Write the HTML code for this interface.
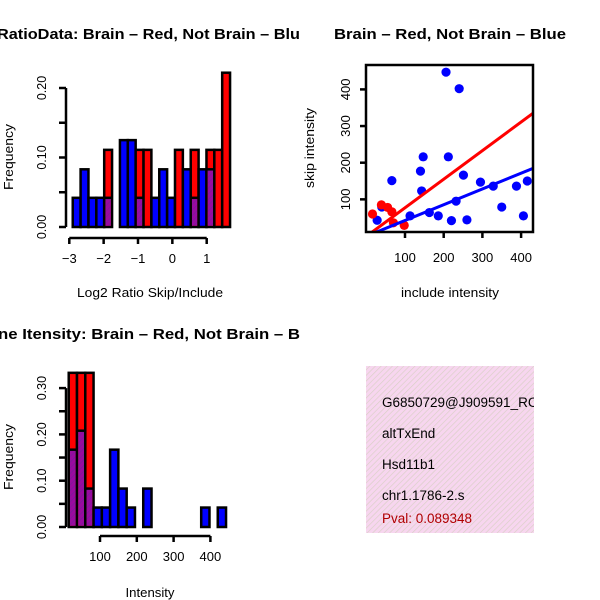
<!DOCTYPE html>
<html><head><meta charset="utf-8"><style>
body{margin:0;background:#fff;}
svg{display:block;font-family:"Liberation Sans",sans-serif;}
</style></head><body>
<svg id="c" width="600" height="600" viewBox="0 0 600 600">
<defs>
<pattern id="hatch" width="4" height="4" patternUnits="userSpaceOnUse" patternTransform="rotate(45)">
<rect width="4" height="4" fill="#9a0aa0"/><line x1="0" y1="0" x2="0" y2="4" stroke="#7a1a9a" stroke-width="1.5"/>
</pattern>
<pattern id="pinkhatch" width="4" height="4" patternUnits="userSpaceOnUse" patternTransform="rotate(45)">
<rect width="4" height="4" fill="#f7d6ef"/><line x1="0" y1="0" x2="0" y2="4" stroke="#d9cfc6" stroke-width="1.3"/>
</pattern>
<clipPath id="clipL"><rect x="0" y="0" width="300" height="600"/></clipPath>
<clipPath id="clipS"><rect x="366" y="65" width="167" height="167"/></clipPath>
<clipPath id="clipT"><rect x="366" y="366" width="168" height="167"/></clipPath>
</defs>
<g id="root"></g>
</svg>
<script>
// Panel 1: log2 ratio histogram
const ratioBinStart = -2.9;
const ratioBinWidth = 0.229;
const ratioBlue = [0.042,0.083,0.042,0.042,0.042,0,0.125,0.125,0.042,0,0.042,0.083,0.042,0,0.083,0.042,0.083,0.083,0,0];
const ratioRed  = [0,0,0,0,0.111,0,0,0,0.111,0.111,0,0,0,0.111,0,0.111,0,0.111,0.111,0.222];
const ratioXTicks = [-3,-2,-1,0,1];
const ratioYTicks = [0,0.05,0.10,0.15,0.20];
const ratioYLabels = ["0.00","","0.10","","0.20"];
// Panel 3: intensity histogram
const intBinStart = 15;
const intBinWidth = 22.5;
const intBlue = [0.167,0.208,0.083,0.042,0.042,0.167,0.083,0.042,0,0.083,0,0,0,0,0,0,0.042,0,0.042];
const intRed  = [0.333,0.333,0.333,0,0,0,0,0,0,0,0,0,0,0,0,0,0,0,0];
const intXTicks = [100,200,300,400];
const intYTicks = [0,0.05,0.10,0.15,0.20,0.25,0.30];
const intYLabels = ["0.00","","0.10","","0.20","","0.30"];
// Panel 2: scatter
const blueInclude = [206,240,147,212,140,66,251,143,295,328,388,416,40,28,113,163,186,220,232,260,350,406];
const blueSkip    = [447,402,216,216,177,151,166,123,147,136,136,150,79,43,55,64,55,42,95,44,79,55];
const redInclude  = [16,39,55,66,70,98];
const redSkip     = [60,85,78,66,36,29];
const fitIntercepts = [-1,-0.7];   // red, blue
const fitSlopes = [0.78,0.43];
const scatXTicks = [100,200,300,400];
const scatYTicks = [100,200,300,400];
const infoLines = ["G6850729@J909591_RC","altTxEnd","Hsd11b1","chr1.1786-2.s"];
const pval = "Pval: 0.089348";

const NS="http://www.w3.org/2000/svg";
const root=document.getElementById('root');
function mk(tag,attrs,parent){const e=document.createElementNS(NS,tag);for(const k in attrs)e.setAttribute(k,attrs[k]);(parent||root).appendChild(e);return e;}
function txt(s,attrs,parent){const e=mk('text',attrs,parent);e.textContent=s;return e;}

function hist(o){
  const g=mk('g',{'clip-path':'url(#clipL)'});
  
  
  const sx=v=>o.x0+(v-o.xmin)*o.kx, sy=v=>o.y0-v*o.ky;
  for(let i=0;i<o.blue.length;i++){
    const b=o.blue[i],r=o.red[i];
    const a=o.start+i*o.w, x=sx(a), w=o.w*o.kx;
    const top=Math.max(b,r); if(top<=0) continue;
    const col=r>b?'#ff0000':'#0000ff';
    const bar=mk('rect',{x:x,y:sy(top),width:w,height:sy(0)-sy(top),fill:col,stroke:'#000','stroke-width':2.5},g);
    
    
    const lo=Math.min(b,r);
    if(lo>0){const p=mk('rect',{x:x+1.25,y:sy(lo),width:w-2.5,height:sy(0)-sy(lo)-1.25,fill:'url(#hatch)'},g);
      
      
      mk('line',{x1:x,x2:x+w,y1:sy(lo),y2:sy(lo),stroke:'#000','stroke-width':2.5},g);}
  }
  const yt=o.yticks;
  mk('line',{x1:o.yax,x2:o.yax,y1:sy(yt[0]),y2:sy(yt[yt.length-1]),stroke:'#000','stroke-width':2.5},g);
  yt.forEach((v,i)=>{mk('line',{x1:o.yax-7,x2:o.yax,y1:sy(v),y2:sy(v),stroke:'#000','stroke-width':2.5},g);
    if(o.ylabels[i]){const t=txt(o.ylabels[i],{x:0,y:0,'font-size':12.5,'text-anchor':'middle',transform:'translate(46,'+sy(v)+') rotate(-90)'},g);
    }});
  const xt=o.xticks, ya=sy(0)+o.xgap;
  mk('line',{x1:sx(xt[0]),x2:sx(xt[xt.length-1]),y1:ya,y2:ya,stroke:'#000','stroke-width':2.5},g);
  xt.forEach(v=>{mk('line',{x1:sx(v),x2:sx(v),y1:ya,y2:ya+6,stroke:'#000','stroke-width':2.5},g);
    const t=txt(String(v).replace('-','\u2212'),{x:sx(v),y:ya+25,'font-size':13,'text-anchor':'middle'},g);
    });
  const xl=txt(o.xlabel,{x:150,y:o.y0+70,'font-size':13,'text-anchor':'middle',textLength:o.xlen,lengthAdjust:'spacingAndGlyphs'},g);
  
  const yl=txt('Frequency',{x:0,y:0,'font-size':13,'text-anchor':'middle',textLength:66,lengthAdjust:'spacingAndGlyphs',transform:'translate(13,'+(o.y0-70)+') rotate(-90)'},g);
  
  const ti=txt(o.title,{x:o.tx,y:o.ty,'font-size':15,'font-weight':'bold',textLength:o.tlen,lengthAdjust:'spacingAndGlyphs'},g);
  
}
hist({name:'ratio-histogram',blue:ratioBlue,red:ratioRed,start:ratioBinStart,w:ratioBinWidth,
  xmin:-3,x0:69.3,kx:34.35,y0:227,ky:695,yax:66,yticks:ratioYTicks,ylabels:ratioYLabels,xticks:ratioXTicks,xgap:11,
  xlabel:'Log2 Ratio Skip/Include',xlen:146,title:'RatioData: Brain \u2013 Red, Not Brain \u2013 Blue',tx:-3,ty:39,tlen:312});
hist({name:'intensity-histogram',blue:intBlue,red:intRed,start:intBinStart,w:intBinWidth,
  xmin:100,x0:100,kx:0.368,y0:527,ky:463,yax:66,yticks:intYTicks,ylabels:intYLabels,xticks:intXTicks,xgap:9,
  xlabel:'Intensity',xlen:49,title:'ne Itensity: Brain \u2013 Red, Not Brain \u2013 B',tx:-2,ty:339,tlen:302});

const sg=mk('g',{});


const px=v=>366.3+v*0.387, py=v=>236-v*0.3665;
const pg=mk('g',{'clip-path':'url(#clipS)'},sg);
blueInclude.forEach((v,i)=>{const c=mk('circle',{cx:px(v),cy:py(blueSkip[i]),r:4.6,fill:'#0000ff'},pg);
  });
redInclude.forEach((v,i)=>{const c=mk('circle',{cx:px(v),cy:py(redSkip[i]),r:4.6,fill:'#ff0000'},pg);
  });
['#ff0000','#0000ff'].forEach((col,i)=>{const l=mk('line',{x1:px(0),y1:py(fitIntercepts[i]),x2:px(450),y2:py(fitIntercepts[i]+fitSlopes[i]*450),stroke:col,'stroke-width':3},pg);
  });
mk('rect',{x:366,y:65,width:167,height:167,fill:'none',stroke:'#000','stroke-width':2.5},sg);
scatXTicks.forEach(v=>{mk('line',{x1:px(v),x2:px(v),y1:232,y2:238,stroke:'#000','stroke-width':2.5},sg);
  const t=txt(String(v),{x:px(v),y:262,'font-size':13,'text-anchor':'middle'},sg);
  });
scatYTicks.forEach(v=>{mk('line',{x1:360,x2:366,y1:py(v),y2:py(v),stroke:'#000','stroke-width':2.5},sg);
  const t=txt(String(v),{x:0,y:0,'font-size':13,'text-anchor':'middle',transform:'translate(350,'+py(v)+') rotate(-90)'},sg);
  });
const sxl=txt('include intensity',{x:450,y:297,'font-size':13,'text-anchor':'middle',textLength:98,lengthAdjust:'spacingAndGlyphs'},sg);

const syl=txt('skip intensity',{x:0,y:0,'font-size':13,'text-anchor':'middle',textLength:80,lengthAdjust:'spacingAndGlyphs',transform:'translate(314,148) rotate(-90)'},sg);

const st=txt('Brain \u2013 Red, Not Brain \u2013 Blue',{x:450,y:39,'font-size':15,'font-weight':'bold','text-anchor':'middle',textLength:232,lengthAdjust:'spacingAndGlyphs'},sg);


const ig=mk('g',{'clip-path':'url(#clipT)'});


mk('rect',{x:366,y:366,width:168,height:167,fill:'url(#pinkhatch)'},ig);
const ys=[407,438,469,500];
infoLines.forEach((s,i)=>{const t=txt(s,{x:382,y:ys[i],'font-size':13.5,fill:'#000'},ig);
  });
const pv=txt(pval,{x:382,y:523,'font-size':13.5,fill:'#b00000'},ig);

</script>
</body></html>
